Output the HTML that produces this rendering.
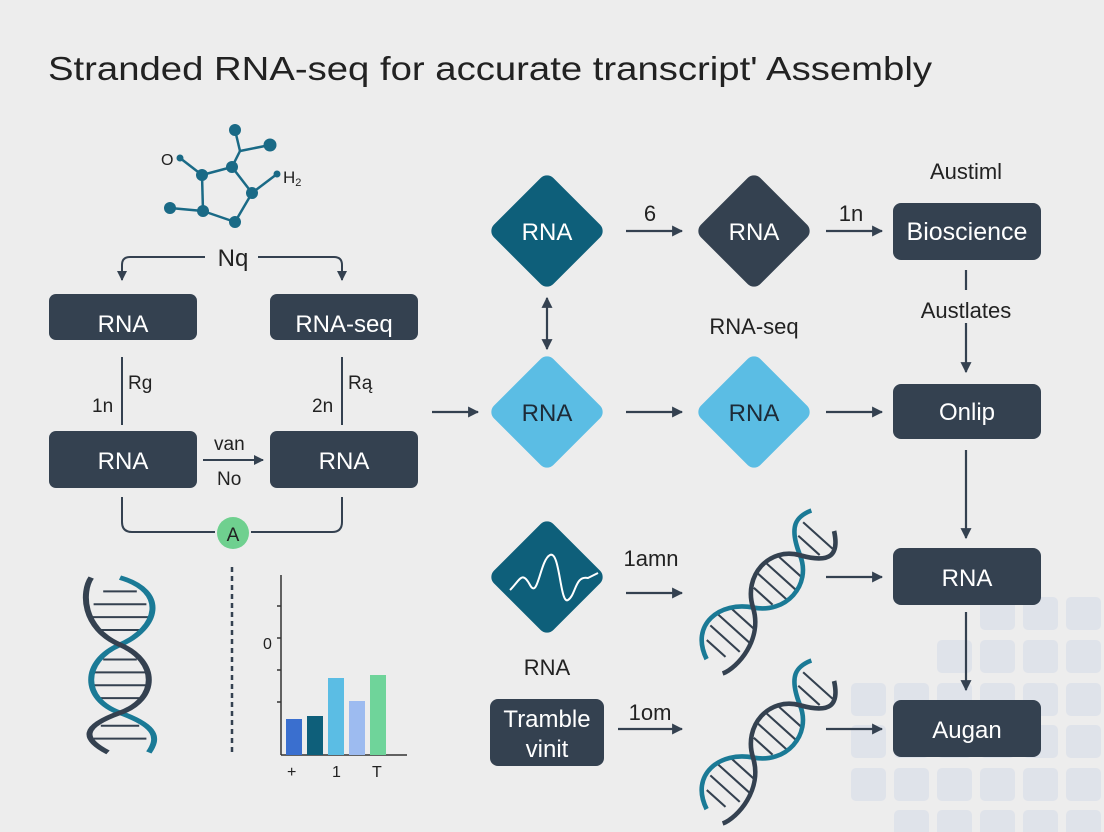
<!DOCTYPE html>
<html><head><meta charset="utf-8"><style>
html,body{margin:0;padding:0;background:#ededed;}
svg{display:block;font-family:"Liberation Sans",sans-serif;}
</style></head><body>
<svg width="1104" height="832" viewBox="0 0 1104 832" xmlns="http://www.w3.org/2000/svg">
<defs>
<marker id="ah" viewBox="0 0 10 10" refX="9" refY="5" markerWidth="5" markerHeight="5" orient="auto-start-reverse"><path d="M0,0 L10,5 L0,10 z" fill="#344150"/></marker>
<g id="helix">
 <g stroke="#344150" stroke-width="2.2">
  <line x1="-80" y1="-14" x2="-80" y2="14"/><line x1="-66" y1="-22" x2="-66" y2="22"/><line x1="-52" y1="-24" x2="-52" y2="24"/><line x1="-38" y1="-18" x2="-38" y2="18"/>
  <line x1="-6" y1="-14" x2="-6" y2="14"/><line x1="8" y1="-22" x2="8" y2="22"/><line x1="22" y1="-24" x2="22" y2="24"/><line x1="36" y1="-18" x2="36" y2="18"/>
  <line x1="66" y1="-16" x2="66" y2="16"/><line x1="80" y1="-22" x2="80" y2="22"/>
 </g>
 <path d="M-95,0 C-80,-40 -40,-32 -22,0 S37,32 52,0 S80,-32 95,-24" fill="none" stroke="#1a7a96" stroke-width="5"/>
 <path d="M-95,24 C-80,32 -40,32 -22,0 S37,-32 52,0 S80,32 95,10" fill="none" stroke="#344150" stroke-width="5"/>
</g>
</defs>
<rect width="1104" height="832" fill="#ededed"/>
<g fill="#dfe3ea">
 <rect x="980" y="597" width="35" height="33" rx="5"/><rect x="1023" y="597" width="35" height="33" rx="5"/><rect x="1066" y="597" width="35" height="33" rx="5"/>
 <rect x="937" y="640" width="35" height="33" rx="5"/><rect x="980" y="640" width="35" height="33" rx="5"/><rect x="1023" y="640" width="35" height="33" rx="5"/><rect x="1066" y="640" width="35" height="33" rx="5"/>
 <rect x="851" y="683" width="35" height="33" rx="5"/><rect x="894" y="683" width="35" height="33" rx="5"/><rect x="937" y="683" width="35" height="33" rx="5"/><rect x="980" y="683" width="35" height="33" rx="5"/><rect x="1023" y="683" width="35" height="33" rx="5"/><rect x="1066" y="683" width="35" height="33" rx="5"/>
 <rect x="851" y="725" width="35" height="33" rx="5"/><rect x="894" y="725" width="35" height="33" rx="5"/><rect x="937" y="725" width="35" height="33" rx="5"/><rect x="980" y="725" width="35" height="33" rx="5"/><rect x="1023" y="725" width="35" height="33" rx="5"/><rect x="1066" y="725" width="35" height="33" rx="5"/>
 <rect x="851" y="768" width="35" height="33" rx="5"/><rect x="894" y="768" width="35" height="33" rx="5"/><rect x="937" y="768" width="35" height="33" rx="5"/><rect x="980" y="768" width="35" height="33" rx="5"/><rect x="1023" y="768" width="35" height="33" rx="5"/><rect x="1066" y="768" width="35" height="33" rx="5"/>
 <rect x="894" y="810" width="35" height="30" rx="5"/><rect x="937" y="810" width="35" height="30" rx="5"/><rect x="980" y="810" width="35" height="30" rx="5"/><rect x="1023" y="810" width="35" height="30" rx="5"/><rect x="1066" y="810" width="35" height="30" rx="5"/>
</g>
<text x="48" y="80" font-size="30" fill="#222" textLength="884" lengthAdjust="spacingAndGlyphs" style="font-size:33px">Stranded RNA-seq for accurate transcript' Assembly</text>

<g stroke="#1a6a86" stroke-width="2.5">
 <line x1="180" y1="158" x2="202" y2="175"/><line x1="202" y1="175" x2="232" y2="167"/><line x1="232" y1="167" x2="240" y2="151"/><line x1="240" y1="151" x2="235" y2="130"/><line x1="240" y1="151" x2="270" y2="145"/><line x1="232" y1="167" x2="252" y2="193"/><line x1="252" y1="193" x2="277" y2="174"/><line x1="252" y1="193" x2="235" y2="222"/><line x1="235" y1="222" x2="203" y2="211"/><line x1="203" y1="211" x2="202" y2="175"/><line x1="203" y1="211" x2="170" y2="208"/>
</g>
<g fill="#1a6a86">
 <circle cx="235" cy="130" r="6"/><circle cx="270" cy="145" r="6.5"/><circle cx="232" cy="167" r="6"/><circle cx="180" cy="158" r="3.5"/><circle cx="202" cy="175" r="6"/><circle cx="277" cy="174" r="3.5"/><circle cx="252" cy="193" r="6"/><circle cx="170" cy="208" r="6"/><circle cx="203" cy="211" r="6"/><circle cx="235" cy="222" r="6"/>
</g>
<text x="161" y="165" font-size="16" fill="#222">O</text>
<text x="283" y="183" font-size="17" fill="#222">H<tspan font-size="11" dy="3">2</tspan></text>

<g fill="none" stroke="#344150" stroke-width="2">
 <path d="M205,257 H130 Q122,257 122,265 V280" marker-end="url(#ah)"/>
 <path d="M258,257 H334 Q342,257 342,265 V280" marker-end="url(#ah)"/>
 <line x1="122" y1="357" x2="122" y2="425"/>
 <line x1="342" y1="357" x2="342" y2="425"/>
 <line x1="203" y1="460" x2="263" y2="460" marker-end="url(#ah)"/>
 <path d="M122,497 V522 Q122,532 132,532 H215"/>
 <path d="M251,532 H332 Q342,532 342,522 V497"/>
</g>
<text x="233" y="266" font-size="24" fill="#222" text-anchor="middle">Nq</text>
<rect x="49" y="294" width="148" height="46" rx="7" fill="#344150"/>
<rect x="270" y="294" width="148" height="46" rx="7" fill="#344150"/>
<rect x="49" y="431" width="148" height="57" rx="7" fill="#344150"/>
<rect x="270" y="431" width="148" height="57" rx="7" fill="#344150"/>
<g font-size="24" fill="#fff" text-anchor="middle">
 <text x="123" y="332">RNA</text><text x="344" y="332">RNA-seq</text>
 <text x="123" y="469">RNA</text><text x="344" y="469">RNA</text>
</g>
<g font-size="19" fill="#222">
 <text x="128" y="389">Rg</text><text x="92" y="412">1n</text>
 <text x="348" y="389">Rą</text><text x="312" y="412">2n</text>
 <text x="214" y="450">van</text><text x="217" y="485">No</text>
</g>
<circle cx="233" cy="533" r="16" fill="#6fd08f"/>
<text x="233" y="541" font-size="19" fill="#222" text-anchor="middle">A</text>

<g transform="translate(120,665) rotate(90)"><use href="#helix" transform="scale(0.92,1.2)"/></g>
<line x1="232" y1="567" x2="232" y2="755" stroke="#344150" stroke-width="2.5" stroke-dasharray="5,4"/>
<g stroke="#333" stroke-width="1.5" fill="none">
 <line x1="281" y1="575" x2="281" y2="755"/><line x1="281" y1="755" x2="407" y2="755"/>
 <line x1="277" y1="606" x2="281" y2="606"/><line x1="277" y1="638" x2="281" y2="638"/><line x1="277" y1="670" x2="281" y2="670"/><line x1="277" y1="702" x2="281" y2="702"/>
</g>
<rect x="286" y="719" width="16" height="36" fill="#3a6fcf"/>
<rect x="307" y="716" width="16" height="39" fill="#0e5f7a"/>
<rect x="328" y="678" width="16" height="77" fill="#5bbde4"/>
<rect x="349" y="701" width="16" height="54" fill="#9dbbf0"/>
<rect x="370" y="675" width="16" height="80" fill="#6fd49a"/>
<g font-size="16" fill="#222"><text x="263" y="649">0</text><text x="287" y="777">+</text><text x="332" y="777">1</text><text x="372" y="777">T</text></g>

<g fill="none" stroke="#344150" stroke-width="2.2" marker-end="url(#ah)">
 <line x1="626" y1="231" x2="682" y2="231"/><line x1="826" y1="231" x2="882" y2="231"/>
 <line x1="547" y1="298" x2="547" y2="349" marker-start="url(#ah)"/>
 <line x1="966" y1="323" x2="966" y2="372"/>
 <line x1="432" y1="412" x2="478" y2="412"/>
 <line x1="626" y1="412" x2="682" y2="412"/><line x1="826" y1="412" x2="882" y2="412"/>
 <line x1="966" y1="450" x2="966" y2="538"/>
 <line x1="966" y1="612" x2="966" y2="690"/>
 <line x1="626" y1="593" x2="682" y2="593"/><line x1="826" y1="577" x2="882" y2="577"/>
 <line x1="618" y1="729" x2="682" y2="729"/><line x1="826" y1="729" x2="882" y2="729"/>
</g>
<line x1="966" y1="270" x2="966" y2="290" stroke="#344150" stroke-width="2.2"/>

<g>
 <rect x="-42" y="-42" width="84" height="84" rx="9" fill="#0e5f7a" transform="translate(547,231) rotate(45)"/>
 <rect x="-42" y="-42" width="84" height="84" rx="9" fill="#344150" transform="translate(754,231) rotate(45)"/>
 <rect x="-42" y="-42" width="84" height="84" rx="9" fill="#5bbde4" transform="translate(547,412) rotate(45)"/>
 <rect x="-42" y="-42" width="84" height="84" rx="9" fill="#5bbde4" transform="translate(754,412) rotate(45)"/>
 <rect x="-42" y="-42" width="84" height="84" rx="9" fill="#0e5f7a" transform="translate(547,577) rotate(45)"/>
</g>
<path d="M510,590 C520,580 522,570 530,585 C538,600 540,560 550,555 C560,550 560,605 568,600 C576,595 575,575 588,578 L598,573" fill="none" stroke="#fff" stroke-width="2"/>
<g font-size="24" text-anchor="middle">
 <text x="547" y="240" fill="#fff">RNA</text><text x="754" y="240" fill="#fff">RNA</text>
 <text x="547" y="421" fill="#1d2b38">RNA</text><text x="754" y="421" fill="#1d2b38">RNA</text>
</g>
<rect x="893" y="203" width="148" height="57" rx="8" fill="#344150"/>
<rect x="893" y="384" width="148" height="55" rx="8" fill="#344150"/>
<rect x="893" y="548" width="148" height="57" rx="8" fill="#344150"/>
<rect x="893" y="700" width="148" height="57" rx="8" fill="#344150"/>
<rect x="490" y="699" width="114" height="67" rx="8" fill="#344150"/>
<g font-size="24" fill="#fff" text-anchor="middle">
 <text x="967" y="240" font-size="25">Bioscience</text><text x="967" y="420">Onlip</text>
 <text x="967" y="586">RNA</text><text x="967" y="738">Augan</text>
 <text x="547" y="727">Tramble</text><text x="547" y="757">vinit</text>
</g>
<g font-size="22" fill="#222" text-anchor="middle">
 <text x="966" y="179">Austiml</text><text x="966" y="318">Austlates</text>
 <text x="754" y="334">RNA-seq</text><text x="547" y="675">RNA</text>
 <text x="650" y="221">6</text><text x="851" y="221">1n</text>
 <text x="651" y="566">1amn</text><text x="650" y="720">1om</text>
</g>
<g transform="translate(767,592) rotate(-48) scale(0.95,0.9)"><use href="#helix"/></g>
<g transform="translate(767,742) rotate(-48) scale(0.95,0.9)"><use href="#helix"/></g>
</svg>
</body></html>
